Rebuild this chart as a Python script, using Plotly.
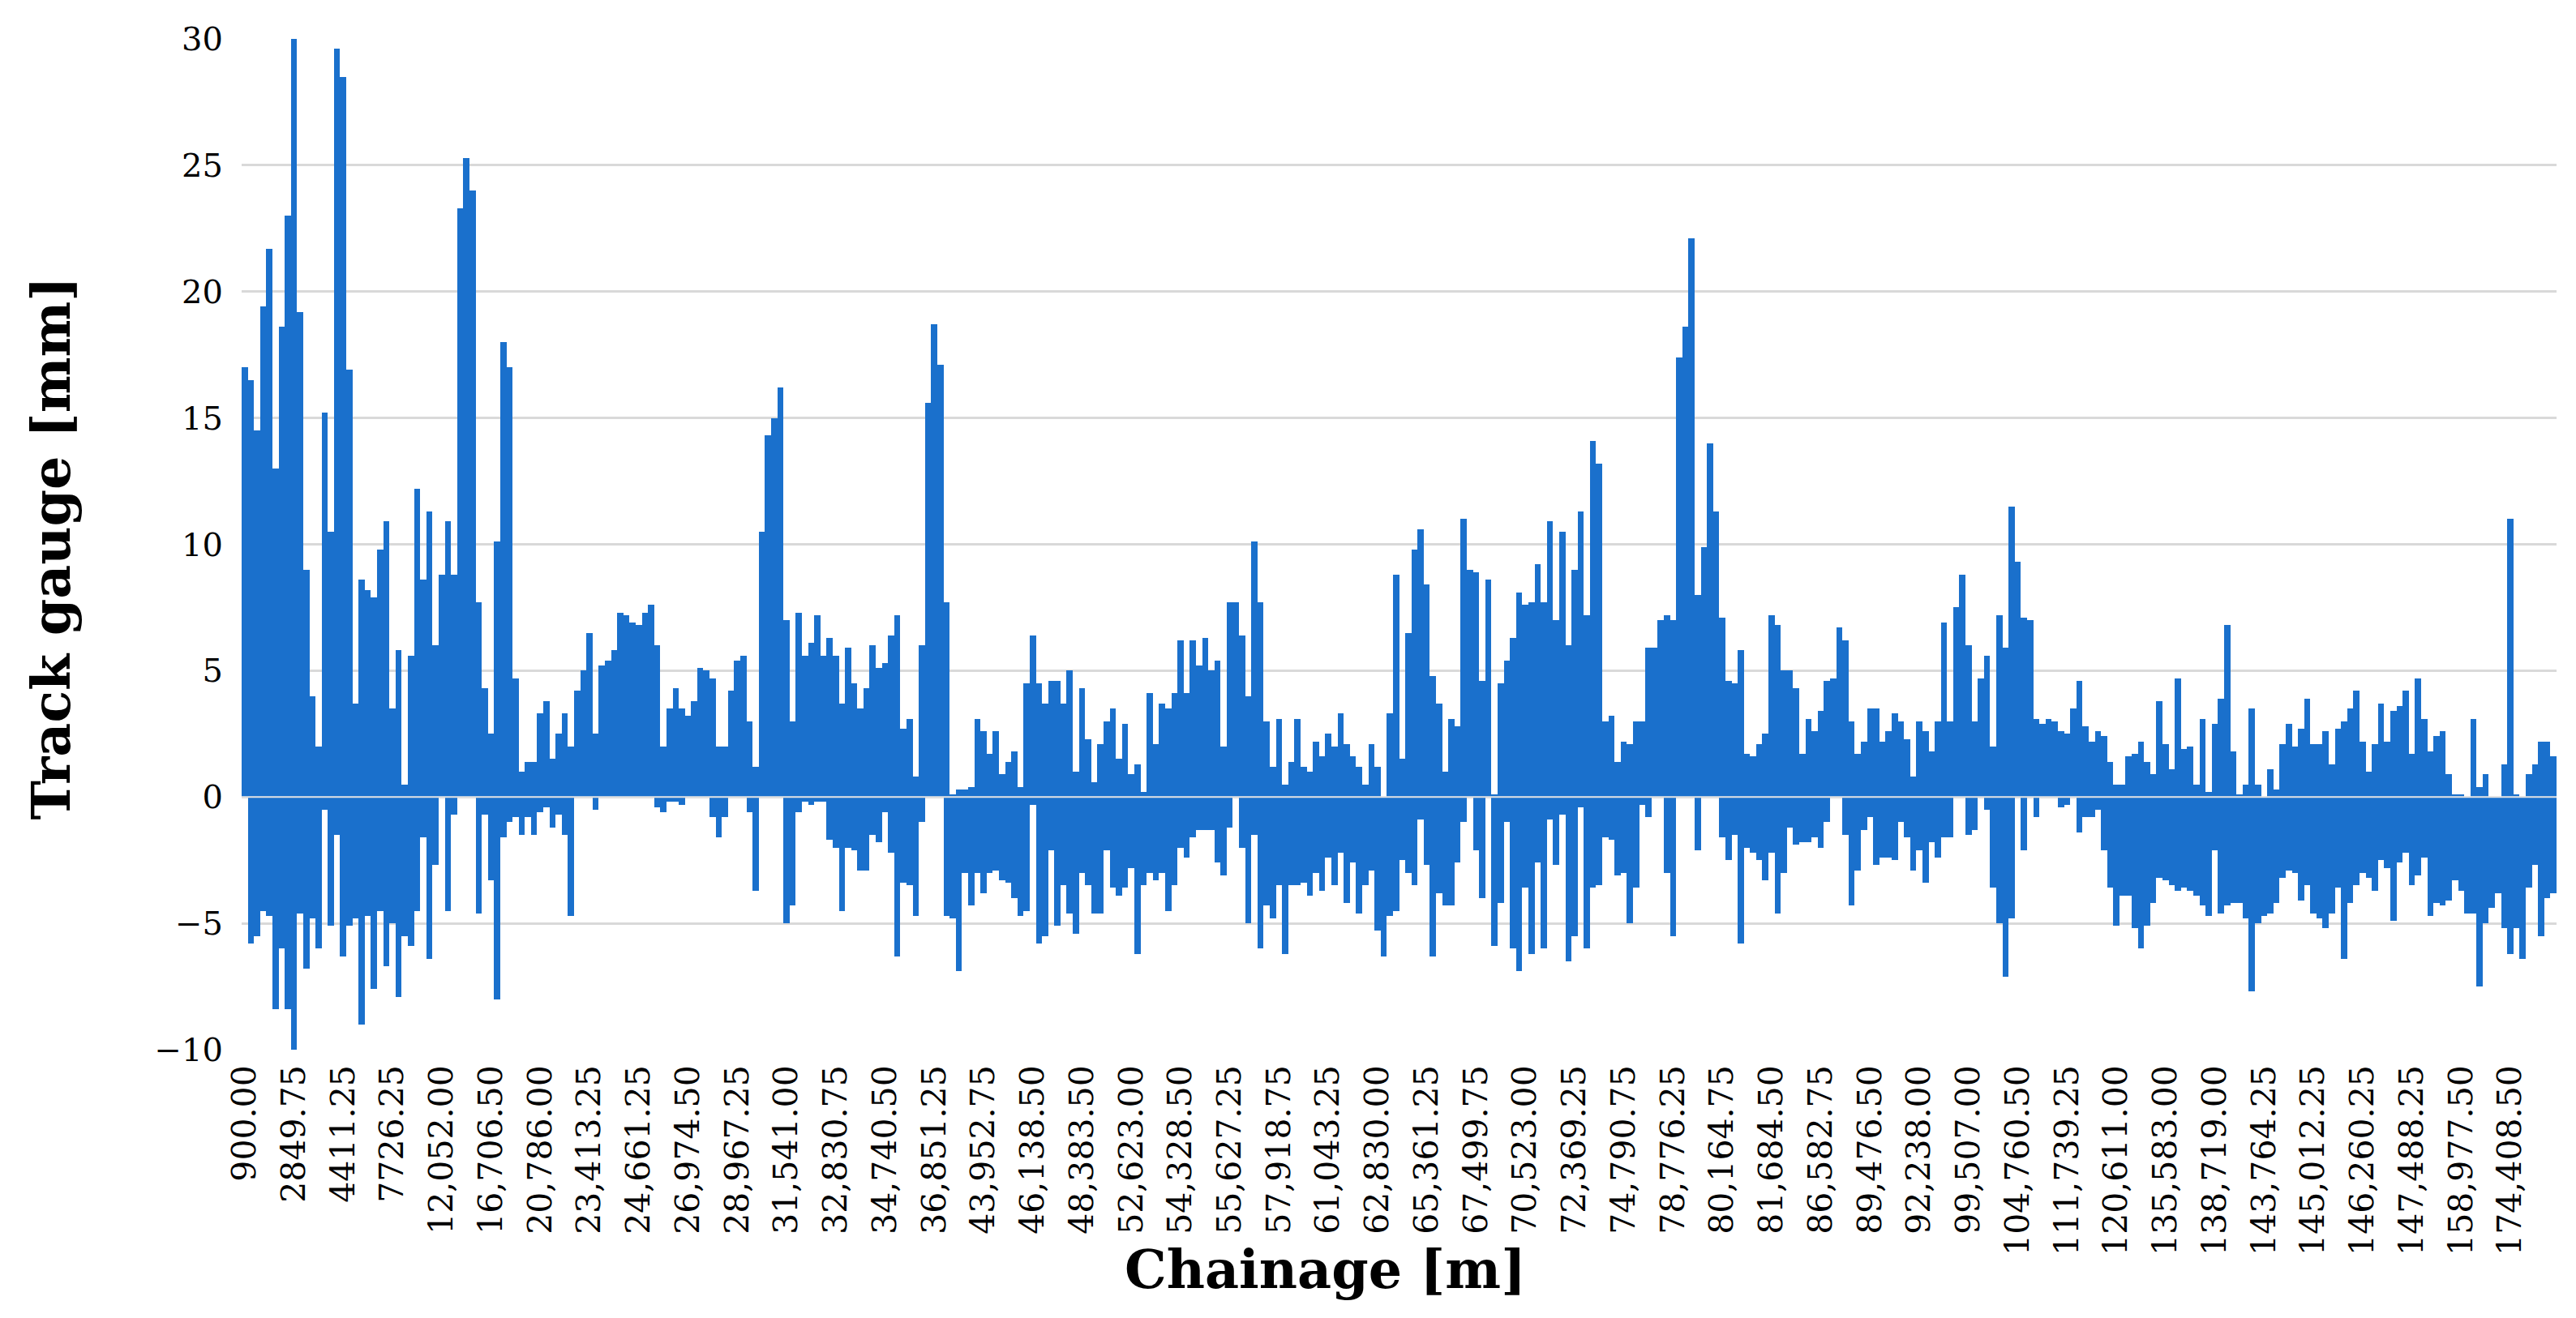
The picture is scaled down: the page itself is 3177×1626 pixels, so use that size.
import plotly.graph_objects as go

# Chainage labels shown on the category axis (one every 8 segments)
chainage_labels = [
    "900.00", "2849.75", "4411.25", "7726.25", "12,052.00", "16,706.50", "20,786.00",
    "23,413.25", "24,661.25", "26,974.50", "28,967.25", "31,541.00", "32,830.75",
    "34,740.50", "36,851.25", "43,952.75", "46,138.50", "48,383.50", "52,623.00",
    "54,328.50", "55,627.25", "57,918.75", "61,043.25", "62,830.00", "65,361.25",
    "67,499.75", "70,523.00", "72,369.25", "74,790.75", "78,776.25", "80,164.75",
    "81,684.50", "86,582.75", "89,476.50", "92,238.00", "99,507.00", "104,760.50",
    "111,739.25", "120,611.00", "135,583.00", "138,719.00", "143,764.25", "145,012.25",
    "146,260.25", "147,488.25", "158,977.50", "174,408.50",
]
segments_per_label = 8

# Track gauge deviation [mm], positive excursions per chainage segment
gauge_positive = [
    17.0, 16.5, 14.5, 19.4, 21.7, 13.0, 18.6, 23.0,
    30.0, 19.2, 9.0, 4.0, 2.0, 15.2, 10.5, 29.6,
    28.5, 16.9, 3.7, 8.6, 8.2, 7.9, 9.8, 10.9,
    3.5, 5.8, 0.5, 5.6, 12.2, 8.6, 11.3, 6.0,
    8.8, 10.9, 8.8, 23.3, 25.3, 24.0, 7.7, 4.3,
    2.5, 10.1, 18.0, 17.0, 4.7, 1.0, 1.4, 1.4,
    3.3, 3.8, 1.5, 2.5, 3.3, 2.0, 4.2, 5.0,
    6.5, 2.5, 5.2, 5.4, 5.8, 7.3, 7.2, 6.9,
    6.8, 7.3, 7.6, 6.0, 2.0, 3.5, 4.3, 3.5,
    3.2, 3.8, 5.1, 5.0, 4.7, 2.0, 2.0, 4.2,
    5.4, 5.6, 3.0, 1.2, 10.5, 14.3, 15.0, 16.2,
    7.0, 3.0, 7.3, 5.6, 6.1, 7.2, 5.6, 6.3,
    5.6, 3.7, 5.9, 4.5, 3.5, 4.3, 6.0, 5.1,
    5.3, 6.4, 7.2, 2.7, 3.1, 0.8, 6.0, 15.6,
    18.7, 17.1, 7.7, 0.1, 0.3, 0.3, 0.4, 3.1,
    2.6, 1.7, 2.6, 0.9, 1.4, 1.8, 0.4, 4.5,
    6.4, 4.5, 3.7, 4.6, 4.6, 3.7, 5.0, 1.0,
    4.3, 2.3, 0.6, 2.1, 3.0, 3.5, 1.5, 2.9,
    0.9, 1.3, 0.2, 4.1, 2.1, 3.7, 3.5, 4.1,
    6.2, 4.1, 6.2, 5.2, 6.3, 5.0, 5.4, 2.0,
    7.7, 7.7, 6.4, 4.0, 10.1, 7.7, 3.0, 1.2,
    3.1, 0.5, 1.4, 3.1, 1.2, 1.0, 2.2, 1.6,
    2.5, 2.0, 3.3, 2.1, 1.6, 1.2, 0.5, 2.1,
    1.2, 0.0, 3.3, 8.8, 1.5, 6.5, 9.8, 10.6,
    8.4, 4.8, 3.7, 1.0, 3.1, 2.8, 11.0, 9.0,
    8.9, 4.6, 8.6, 0.1, 4.5, 5.4, 6.3, 8.1,
    7.6, 7.7, 9.2, 7.7, 10.9, 7.0, 10.5, 6.0,
    9.0, 11.3, 7.2, 14.1, 13.2, 3.0, 3.2, 1.4,
    2.2, 2.1, 3.0, 3.0, 5.9, 5.9, 7.0, 7.2,
    7.0, 17.4, 18.6, 22.1, 8.0, 9.9, 14.0, 11.3,
    7.1, 4.6, 4.5, 5.8, 1.7, 1.6, 2.1, 2.5,
    7.2, 6.8, 5.0, 5.0, 4.3, 1.7, 3.1, 2.6,
    3.4, 4.6, 4.7, 6.7, 6.2, 3.0, 1.7, 2.2,
    3.5, 3.5, 2.2, 2.6, 3.3, 3.0, 2.3, 0.8,
    3.0, 2.6, 1.8, 3.0, 6.9, 3.0, 7.5, 8.8,
    6.0, 3.0, 4.7, 5.6, 2.0, 7.2, 5.9, 11.5,
    9.3, 7.1, 7.0, 3.1, 2.9, 3.1, 3.0, 2.6,
    2.5, 3.5, 4.6, 2.8, 2.2, 2.6, 2.4, 1.4,
    0.5, 0.5, 1.6, 1.7, 2.2, 1.4, 0.9, 3.8,
    2.1, 1.1, 4.7, 1.9, 2.0, 0.5, 3.1, 0.2,
    2.9, 3.9, 6.8, 1.8, 0.1, 0.5, 3.5, 0.5,
    0.0, 1.1, 0.3, 2.1, 2.9, 2.0, 2.7, 3.9,
    2.1, 2.1, 2.6, 1.3, 2.7, 3.0, 3.5, 4.2,
    2.2, 1.0, 2.1, 3.7, 2.2, 3.4, 3.6, 4.2,
    1.7, 4.7, 3.1, 1.8, 2.4, 2.6, 0.9, 0.1,
    0.1, 0.0, 3.1, 0.4, 0.9, 0.0, 0.0, 1.3,
    11.0, 0.1, 0.0, 0.9, 1.3, 2.2, 2.2, 1.6,
]

# Track gauge deviation [mm], negative excursions per chainage segment
gauge_negative = [
    0.0, -5.8, -5.5, -4.5, -4.7, -8.4, -6.0, -8.4,
    -10.0, -4.6, -6.8, -4.8, -6.0, -0.5, -5.1, -1.5,
    -6.3, -5.1, -4.8, -9.0, -4.7, -7.6, -4.5, -6.7,
    -5.0, -7.9, -5.5, -5.9, -4.5, -1.6, -6.4, -2.7,
    0.0, -4.5, -0.7, 0.0, 0.0, 0.0, -4.6, -0.7,
    -3.3, -8.0, -1.6, -1.0, -0.8, -1.5, -0.8, -1.5,
    -0.6, -0.4, -1.2, -0.7, -1.5, -4.7, 0.0, 0.0,
    0.0, -0.5, 0.0, 0.0, 0.0, 0.0, 0.0, 0.0,
    0.0, 0.0, 0.0, -0.4, -0.6, -0.2, -0.2, -0.3,
    0.0, 0.0, 0.0, 0.0, -0.8, -1.6, -0.8, 0.0,
    0.0, 0.0, -0.6, -3.7, 0.0, 0.0, 0.0, 0.0,
    -5.0, -4.3, -0.6, -0.2, -0.3, -0.2, -0.2, -1.7,
    -2.0, -4.5, -2.0, -2.1, -2.9, -2.9, -1.5, -1.8,
    -0.6, -2.2, -6.3, -3.4, -3.5, -4.7, -1.0, 0.0,
    0.0, 0.0, -4.7, -4.8, -6.9, -3.0, -4.3, -3.0,
    -3.8, -3.0, -2.9, -3.3, -3.4, -4.0, -4.7, -4.5,
    -0.3, -5.8, -5.5, -2.1, -5.1, -3.5, -4.6, -5.4,
    -3.0, -3.5, -4.6, -4.6, -2.1, -3.6, -3.9, -3.6,
    -2.8, -6.2, -3.5, -3.0, -3.3, -3.0, -4.5, -3.5,
    -2.0, -2.4, -1.6, -1.3, -1.3, -1.3, -2.6, -3.1,
    -1.2, 0.0, -2.0, -5.0, -1.5, -6.0, -4.3, -4.8,
    -3.5, -6.2, -3.5, -3.5, -3.4, -3.9, -3.0, -3.7,
    -2.4, -3.5, -2.2, -4.2, -2.6, -4.6, -3.5, -2.9,
    -5.3, -6.3, -4.7, -4.5, -2.5, -3.0, -3.5, -0.9,
    -2.7, -6.3, -3.8, -4.3, -4.3, -2.6, -1.0, 0.0,
    -2.1, -4.0, 0.0, -5.9, -4.2, -1.0, -6.0, -6.9,
    -3.6, -6.2, -2.6, -6.0, -0.9, -2.7, -0.7, -6.5,
    -5.5, -0.4, -6.0, -3.6, -3.5, -1.6, -1.7, -3.1,
    -3.0, -5.0, -3.6, -0.3, -0.8, 0.0, 0.0, -3.0,
    -5.5, 0.0, 0.0, 0.0, -2.1, 0.0, 0.0, 0.0,
    -1.6, -2.5, -1.5, -5.8, -2.0, -2.2, -2.5, -3.3,
    -2.2, -4.6, -3.0, -1.2, -1.9, -1.8, -1.8, -1.6,
    -2.0, -1.0, 0.0, 0.0, -1.5, -4.3, -2.9, -1.3,
    -0.8, -2.7, -2.4, -2.4, -2.5, -1.0, -1.6, -2.9,
    -2.1, -3.4, -1.8, -2.4, -1.6, -1.6, 0.0, 0.0,
    -1.5, -1.3, 0.0, -0.5, -3.6, -5.0, -7.1, -4.8,
    0.0, -2.1, 0.0, -0.8, 0.0, 0.0, 0.0, -0.4,
    -0.3, 0.0, -1.4, -0.8, -0.8, -0.5, -2.1, -3.6,
    -5.1, -3.9, -3.9, -5.2, -6.0, -5.1, -4.2, -3.2,
    -3.3, -3.5, -3.7, -3.6, -3.7, -3.9, -4.3, -4.7,
    -2.1, -4.6, -4.3, -4.2, -4.2, -4.8, -7.7, -5.0,
    -4.7, -4.6, -4.2, -3.2, -2.9, -3.0, -4.1, -3.5,
    -4.6, -4.8, -5.2, -4.6, -3.6, -6.4, -4.2, -3.5,
    -3.0, -3.2, -3.7, -2.5, -2.8, -4.9, -2.6, -2.2,
    -3.5, -3.1, -2.4, -4.7, -4.2, -4.3, -4.1, -3.3,
    -3.7, -4.6, -4.6, -7.5, -5.0, -4.4, -3.8, -5.2,
    -6.2, -5.2, -6.4, -3.6, -2.7, -5.5, -4.0, -3.8,
]

y_ticks = [-10, -5, 0, 5, 10, 15, 20, 25, 30]

BAR_COLOR = "#1A70CC"
SERIF = "DejaVu Serif"

n_seg = len(gauge_positive)
seg_index = list(range(n_seg))
tick_positions = [i * segments_per_label for i in range(len(chainage_labels))]

fig = go.Figure()
fig.add_trace(go.Bar(x=seg_index, y=gauge_positive, marker=dict(color=BAR_COLOR, line=dict(width=0)),
                     showlegend=False, hoverinfo="skip"))
fig.add_trace(go.Bar(x=seg_index, y=gauge_negative, marker=dict(color=BAR_COLOR, line=dict(width=0)),
                     showlegend=False, hoverinfo="skip"))

fig.update_layout(
    width=3161, height=1610,
    margin=dict(l=290, r=16, t=40, b=323),
    paper_bgcolor="white", plot_bgcolor="white",
    barmode="relative", bargap=0,
    font=dict(family=SERIF, color="black"),
    xaxis=dict(
        range=[-0.5, n_seg - 0.5],
        tickmode="array", tickvals=tick_positions, ticktext=chainage_labels,
        tickangle=-90, tickfont=dict(family=SERIF, size=41, color="black"),
        showgrid=False, zeroline=False, showline=False, ticks="",
        ticklabelstandoff=10,
    ),
    yaxis=dict(
        range=[-10, 30], tickmode="array", tickvals=y_ticks,
        tickfont=dict(family=SERIF, size=40, color="black"),
        showgrid=True, gridcolor="#D9D9D9", gridwidth=3,
        zeroline=False, showline=False, ticks="",
        ticklabelstandoff=22,
    ),
    shapes=[dict(type="line", xref="paper", yref="y", x0=0, x1=1, y0=0, y1=0,
                 line=dict(color="#E4E4E4", width=2), layer="above")],
    annotations=[
        dict(text="<b>Track gauge [mm]</b>", xref="paper", yref="paper", x=-0.0823, y=0.496,
             xanchor="center", yanchor="middle", textangle=-90, showarrow=False,
             font=dict(family=SERIF, size=65, color="black")),
        dict(text="<b>Chainage [m]</b>", xref="paper", yref="paper", x=0.468, y=-0.217,
             xanchor="center", yanchor="middle", showarrow=False,
             font=dict(family=SERIF, size=65, color="black")),
    ],
)

fig.write_html("out.html")
